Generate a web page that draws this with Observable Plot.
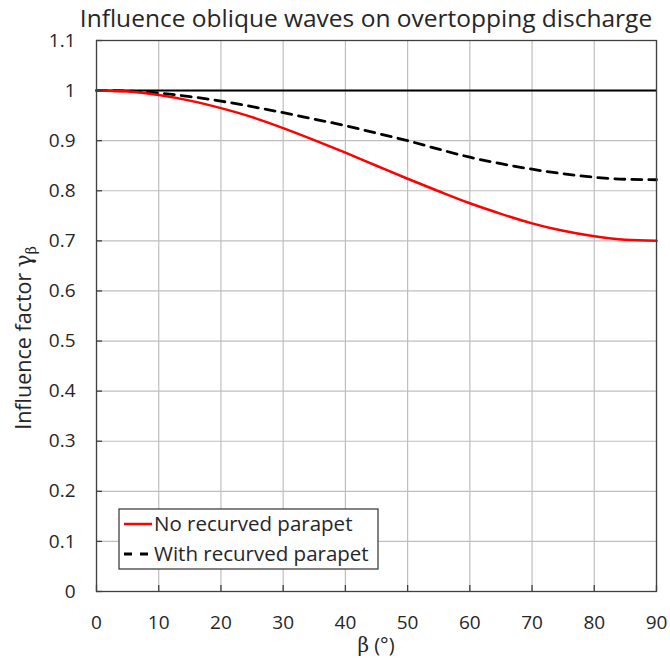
<!DOCTYPE html>
<html>
<head>
<meta charset="utf-8">
<script src="https://cdn.jsdelivr.net/npm/d3@7"></script>
<script src="https://cdn.jsdelivr.net/npm/@observablehq/plot@0.6"></script>
<style>
  html, body { margin: 0; padding: 0; background: white; }
  #chart { position: relative; width: 670px; height: 661px; }
</style>
</head>
<body>
<div id="chart"></div>
<script>
const beta = [0, 5, 10, 15, 20, 25, 30, 35, 40, 45, 50, 55, 60, 65, 70, 75, 80, 85, 90];
const noParapet = [1.000, 0.998, 0.991, 0.980, 0.965, 0.947, 0.925, 0.901, 0.876, 0.850, 0.824, 0.799, 0.775, 0.754, 0.735, 0.720, 0.709, 0.702, 0.700];
const withParapet = [1.000, 0.999, 0.995, 0.988, 0.979, 0.968, 0.956, 0.943, 0.930, 0.915, 0.900, 0.883, 0.867, 0.854, 0.843, 0.834, 0.827, 0.823, 0.822];
const xTicks = [0, 10, 20, 30, 40, 50, 60, 70, 80, 90];
const yTicks = [0, 0.1, 0.2, 0.3, 0.4, 0.5, 0.6, 0.7, 0.8, 0.9, 1, 1.1];
const yTickLabels = ["0", "0.1", "0.2", "0.3", "0.4", "0.5", "0.6", "0.7", "0.8", "0.9", "1", "1.1"];
const seriesNames = ["No recurved parapet", "With recurved parapet"];
const titleText = "Influence oblique waves on overtopping discharge";

const rows1 = beta.map((b, i) => ({beta: b, g: noParapet[i]}));
const rows2 = beta.map((b, i) => ({beta: b, g: withParapet[i]}));

const FONT = "'Open Sans', sans-serif";

const plot = Plot.plot({
  width: 670,
  height: 661,
  marginLeft: 96,
  marginRight: 14,
  marginTop: 40,
  marginBottom: 70,
  style: {fontFamily: FONT, fontSize: "19px", color: "#262626", background: "white", overflow: "visible"},
  x: {domain: [0, 90], ticks: xTicks},
  y: {domain: [0, 1.1], ticks: yTicks},
  marks: [
    Plot.gridX(xTicks, {stroke: "#bfbfbf", strokeOpacity: 1, strokeWidth: 1.2}),
    Plot.gridY(yTicks, {stroke: "#bfbfbf", strokeOpacity: 1, strokeWidth: 1.2}),
    Plot.ruleY([1], {stroke: "#000", strokeWidth: 2}),
    Plot.line(rows2, {x: "beta", y: "g", curve: "monotone-x", stroke: "#000", strokeWidth: 2.8, strokeDasharray: "10,7"}),
    Plot.line(rows1, {x: "beta", y: "g", curve: "monotone-x", stroke: "#ff0000", strokeWidth: 2.5}),
    Plot.frame({stroke: "#404040", strokeWidth: 1.3}),
    Plot.axisX(xTicks, {tickSize: -6, tickPadding: 30, stroke: "#404040", strokeWidth: 1.3, label: null, tickFormat: d => String(d)}),
    Plot.axisY(yTicks, {tickSize: -6, tickPadding: 27, stroke: "#404040", strokeWidth: 1.3, label: null, tickFormat: (d, i) => yTickLabels[i]})
  ]
});

document.getElementById("chart").appendChild(plot);

const svg = d3.select(plot);

// Title
svg.append("text")
  .attr("x", 366).attr("y", 27)
  .attr("text-anchor", "middle")
  .attr("font-family", FONT).attr("font-size", 24.5).attr("fill", "#262626")
  .text(titleText);

// X axis label
const xl = svg.append("text")
  .attr("x", 376).attr("y", 652)
  .attr("text-anchor", "middle")
  .attr("font-family", FONT).attr("font-size", 20).attr("fill", "#262626");
xl.append("tspan").attr("font-family", "'DejaVu Serif', serif").text("β");
xl.append("tspan").text(" (°)");

// Y axis label
const yl = svg.append("text")
  .attr("transform", "translate(31,338) rotate(-90)")
  .attr("text-anchor", "middle")
  .attr("font-family", FONT).attr("font-size", 21.5).attr("fill", "#262626");
yl.append("tspan").text("Influence factor ");
yl.append("tspan").attr("font-family", "'DejaVu Serif', serif").text("γ");
yl.append("tspan").attr("font-family", "'DejaVu Serif', serif").attr("font-size", 14).attr("dy", 5).text("β");

// Legend
const lg = svg.append("g").attr("text-anchor", "start");
lg.append("rect").attr("x", 119).attr("y", 509).attr("width", 259).attr("height", 60)
  .attr("fill", "white").attr("stroke", "#404040").attr("stroke-width", 1.3);
lg.append("line").attr("x1", 124).attr("x2", 152).attr("y1", 524).attr("y2", 524)
  .attr("stroke", "#ff0000").attr("stroke-width", 2.5);
lg.append("line").attr("x1", 124).attr("x2", 152).attr("y1", 554).attr("y2", 554)
  .attr("stroke", "#000").attr("stroke-width", 2.8).attr("stroke-dasharray", "8,8");
lg.append("text").attr("x", 154).attr("y", 531).attr("text-anchor", "start")
  .attr("font-family", FONT).attr("font-size", 20.5).attr("fill", "#262626").text(seriesNames[0]);
lg.append("text").attr("x", 154).attr("y", 561).attr("text-anchor", "start")
  .attr("font-family", FONT).attr("font-size", 20.5).attr("fill", "#262626").text(seriesNames[1]);
</script>
</body>
</html>
